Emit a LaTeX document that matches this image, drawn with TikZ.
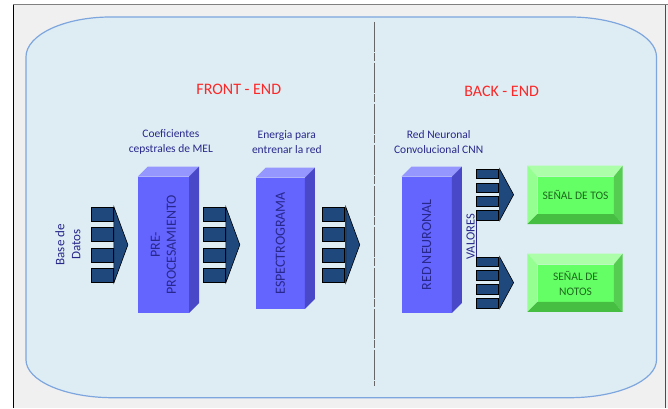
\documentclass[tikz,border=0pt]{standalone}
\usepackage{fontspec}
\setmainfont{Carlito}
\usetikzlibrary{positioning}

\definecolor{fondo}{RGB}{240,240,240}
\definecolor{panel}{RGB}{222,237,243}
\definecolor{panelborde}{RGB}{126,166,222}
\definecolor{rojo}{RGB}{250,40,40}
\definecolor{tinta}{RGB}{40,40,140}
\definecolor{cara}{RGB}{100,100,255}
\definecolor{caratop}{RGB}{150,150,255}
\definecolor{caralado}{RGB}{72,72,200}
\definecolor{barra}{RGB}{31,73,125}
\definecolor{verde}{RGB}{100,255,100}
\definecolor{verdetop}{RGB}{172,255,168}
\definecolor{verdeizq}{RGB}{150,255,145}
\definecolor{verdeder}{RGB}{85,205,80}
\definecolor{verdebajo}{RGB}{70,190,65}
\definecolor{verdetinta}{RGB}{30,105,30}

\tikzset{
  titulo/.style={text=rojo, font=\fontsize{16}{18}\selectfont},
  nota/.style={text=tinta, font=\fontsize{11.5}{14.5}\selectfont, align=center},
  lateral/.style={nota, rotate=90, font=\fontsize{13}{16}\selectfont},
  frente/.style={fill=cara, inner sep=0pt},
  rotulo/.style={rotate=90, text=tinta, font=\fontsize{14}{16}\selectfont, align=center},
  salida/.style={fill=verde, inner sep=0pt, minimum width=76pt, minimum height=37pt,
    text=verdetinta, font=\fontsize{11.5}{15}\selectfont, align=center},
  divisor/.style={draw=black!60, line width=1pt, dash pattern=on 30pt off 1.5pt on 8pt off 1.5pt},
  flechas/.pic={
    \foreach \i in {0,...,3}
      \filldraw[fill=barra, draw=black, line width=0.6pt] (0,\i*20.5) rectangle ++(22,14);
    \filldraw[fill=barra, draw=black, line width=0.6pt] (23,0) -- (37,38) -- (23,76) -- cycle;
  }
}

\begin{document}
\begin{tikzpicture}[x=1pt, y=-1pt]
  % window and panel
  \fill[white] (0,0) rectangle (668,408);
  \fill[fondo] (13,5) rectangle (668,408);
  \draw[black!50, line width=1pt] (13,5) -- (668,5);
  \draw[black, line width=0.8pt] (13,5) -- (13,408);
  \draw[black!70, line width=0.8pt] (666,5) -- (666,408);
  \filldraw[fill=panel, draw=panelborde, line width=1.2pt]
    (111,17) -- (570,17) arc[start angle=-90, end angle=0, x radius=87, y radius=40]
    -- (657,360) arc[start angle=0, end angle=90, x radius=87, y radius=38]
    -- (113,398) arc[start angle=90, end angle=180, x radius=87, y radius=38]
    -- (26,57) arc[start angle=180, end angle=270, x radius=85, y radius=40] -- cycle;
  \draw[divisor] (375,22) -- (375,386);

  \node[titulo] (front) at (239,89) {FRONT - END};
  \node[titulo] (back) at (502,91) {BACK - END};

  % processing blocks
  \node[frente, minimum width=51pt, minimum height=136pt] (pre) at (163.5,245) {};
  \node[frente, minimum width=49pt, minimum height=131pt] (esp) at (280.5,243.5) {};
  \node[frente, minimum width=50pt, minimum height=136pt] (red) at (427,245) {};
  \foreach \n in {pre,esp,red}{
    \fill[caratop] (\n.north west) -- ([shift={(10,-10)}]\n.north west)
      -- ([shift={(10,-10)}]\n.north east) -- (\n.north east) -- cycle;
    \fill[caralado] (\n.north east) -- ([shift={(10,-10)}]\n.north east)
      -- ([shift={(10,-10)}]\n.south east) -- (\n.south east) -- cycle;
  }
  \node[rotulo] at (pre) {PRE-\\PROCESAMIENTO};
  \node[rotulo] at (esp) {ESPECTROGRAMA};
  \node[rotulo] at (red) {RED NEURONAL};

  \node[nota] (mel) at (171,142) {Coeficientes\\cepstrales de MEL};
  \node[nota] (energia) at (287,142) {Energia para\\entrenar la red};
  \node[nota] (cnn) at (439,142) {Red Neuronal\\Convolucional CNN};
  \node[lateral] (datos) at (68,245) {Base de\\Datos};
  \node[lateral, font=\fontsize{12.5}{15}\selectfont] (valores) at (472,237) {\underline{VALORES}};

  % data flow
  \pic at (91,207) {flechas};
  \pic at (203,207) {flechas};
  \pic at (323,207) {flechas};
  \pic[yscale=0.68] at (477,169) {flechas};
  \pic[yscale=0.68] at (477,257) {flechas};

  % outputs
  \node[salida] (tos) at (576,195.5) {SEÑAL DE TOS};
  \node[salida] (notos) at (576,283.5) {SEÑAL DE\\NOTOS};
  \foreach \n in {tos,notos}{
    \fill[verdetop] ([shift={(-10,-11)}]\n.north west) -- ([shift={(9,-11)}]\n.north east)
      -- (\n.north east) -- (\n.north west) -- cycle;
    \fill[verdeizq] ([shift={(-10,-11)}]\n.north west) -- (\n.north west)
      -- (\n.south west) -- ([shift={(-10,10)}]\n.south west) -- cycle;
    \fill[verdeder] ([shift={(9,-11)}]\n.north east) -- ([shift={(9,10)}]\n.south east)
      -- (\n.south east) -- (\n.north east) -- cycle;
    \fill[verdebajo] ([shift={(-10,10)}]\n.south west) -- (\n.south west)
      -- (\n.south east) -- ([shift={(9,10)}]\n.south east) -- cycle;
  }
\end{tikzpicture}
\end{document}
